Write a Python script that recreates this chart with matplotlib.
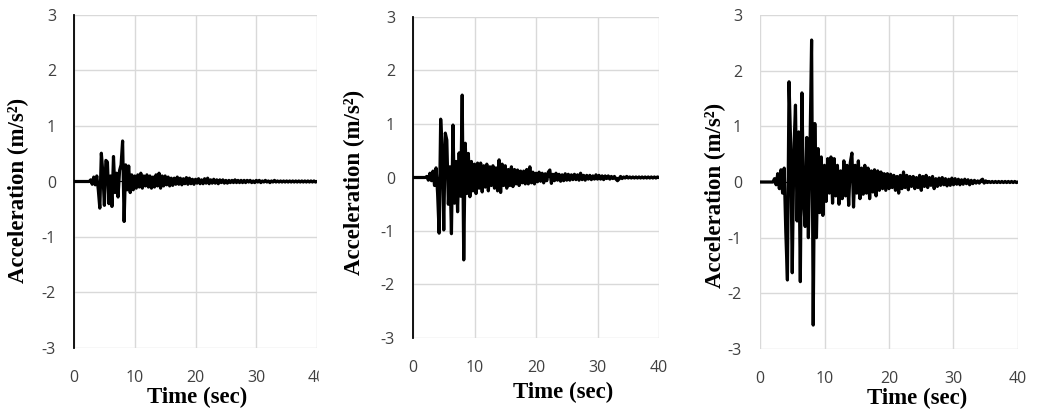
import numpy as np
import matplotlib
matplotlib.use('Agg')
import matplotlib.pyplot as plt
from matplotlib.patches import Rectangle

plt.rcParams['axes.unicode_minus'] = False

# sample times (s), one value every 0.25 s
time = np.arange(0, 40.01, 0.25)

# acceleration (m/s2), 8 samples = 2 s per row
acc1 = [0, 0, 0, 0, 0, 0, 0, 0,
        0, 0, 0, 0.03, -0.05, 0.08, -0.06, 0.1,
        -0.15, -0.48, 0.51, 0.15, -0.43, 0.38, 0.35, -0.4,
        0.1, -0.45, 0.45, -0.2, 0.15, -0.28, 0.2, 0.3,
        0.73, -0.72, 0.3, -0.15, 0.28, -0.2, 0.12, -0.15,
        0.1, -0.12, 0.12, -0.1, 0.15, -0.12, 0.1, -0.08,
        0.12, -0.1, 0.1, -0.12, 0.08, -0.1, 0.12, -0.08,
        0.15, -0.12, 0.1, -0.08, 0.1, -0.06, 0.08, -0.08,
        0.06, -0.07, 0.06, -0.05, 0.08, -0.05, 0.06, -0.06,
        0.05, -0.04, 0.07, -0.05, 0.06, -0.04, 0.04, -0.05,
        0.04, -0.03, 0.05, -0.04, 0.03, -0.04, 0.05, -0.03,
        0.06, -0.04, 0.03, -0.03, 0.04, -0.03, 0.03, -0.04,
        0.03, -0.02, 0.03, -0.03, 0.02, -0.03, 0.02, -0.02,
        0.02, -0.02, 0.03, -0.02, 0.02, -0.02, 0.02, -0.02,
        0.02, -0.02, 0.02, -0.01, 0.02, -0.02, 0.01, -0.02,
        0.02, -0.01, 0.02, -0.02, 0.01, -0.01, 0.02, -0.01,
        0.01, -0.02, 0.01, -0.01, 0.02, -0.01, 0.01, -0.01,
        0.01, -0.01, 0.01, -0.01, 0.01, -0.01, 0.01, -0.01,
        0.01, -0.01, 0.01, -0.01, 0.01, -0.01, 0.01, -0.01,
        0.01, -0.01, 0.01, -0.01, 0.01, -0.01, 0.01, -0.01,
        0.0]

acc2 = [0, 0, 0, 0, 0, 0, 0, 0,
        0, 0.02, -0.05, 0.08, -0.06, 0.12, -0.15, 0.18,
        -0.3, -1.04, 1.09, 0.5, -0.98, 0.83, 0.7, -0.5,
        0.2, -1.05, 0.98, -0.48, 0.3, -0.64, 0.46, -0.35,
        1.54, -1.54, 0.64, -0.3, 0.45, -0.36, 0.3, -0.25,
        0.25, -0.3, 0.27, -0.2, 0.27, -0.27, 0.22, -0.18,
        0.25, -0.25, 0.2, -0.15, 0.22, -0.2, 0.18, -0.25,
        0.33, -0.28, 0.25, -0.15, 0.22, -0.2, 0.15, -0.15,
        0.2, -0.17, 0.15, -0.12, 0.14, -0.15, 0.12, -0.1,
        0.12, -0.12, 0.15, -0.12, 0.2, -0.1, 0.1, -0.12,
        0.08, -0.08, 0.1, -0.07, 0.08, -0.1, 0.07, -0.06,
        0.1, 0.14, -0.11, 0.06, -0.06, 0.08, -0.05, 0.06,
        -0.07, 0.05, -0.06, 0.07, -0.05, 0.06, -0.05, 0.05,
        -0.04, 0.06, -0.04, 0.05, -0.05, 0.08, -0.04, 0.04,
        -0.05, 0.04, -0.03, 0.04, -0.04, 0.03, -0.03, 0.05,
        -0.03, 0.04, -0.03, 0.03, -0.04, 0.03, -0.02, 0.03,
        -0.03, 0.02, -0.02, 0.02, -0.03, -0.06, -0.03, 0.02,
        -0.02, 0.01, -0.01, 0.02, -0.01, 0.01, -0.01, 0.01,
        -0.01, 0.01, -0.01, 0.01, -0.01, 0.01, -0.01, 0.01,
        -0.01, 0.01, -0.01, 0.01, -0.01, 0.01, -0.01, 0.01,
        0.0]

acc3 = [0, 0, 0, 0, 0, 0, 0, 0,
        0, 0.06, -0.05, 0.15, -0.12, 0.22, -0.2, 0.25,
        -0.9, -1.76, 1.8, 0.7, -1.63, 0.55, 1.38, -0.7,
        0.9, -1.79, 1.6, -0.3, -0.8, 0.8, -1.0, 0.6,
        2.55, -2.57, 1.05, -1.0, 0.6, -0.55, 0.45, -0.6,
        0.3, -0.35, 0.42, -0.2, 0.45, -0.38, 0.42, -0.25,
        0.3, -0.4, 0.2, -0.3, 0.38, -0.25, 0.3, -0.42,
        0.35, 0.52, -0.45, 0.3, -0.2, 0.38, -0.3, 0.25,
        -0.22, 0.3, -0.2, 0.25, -0.3, 0.2, -0.18, 0.22,
        -0.25, 0.2, -0.15, 0.18, -0.12, 0.15, -0.15, 0.15,
        -0.12, 0.14, -0.1, 0.12, -0.15, 0.1, -0.2, 0.12,
        -0.12, 0.18, -0.1, 0.12, -0.14, 0.1, -0.08, 0.1,
        -0.12, 0.08, -0.1, 0.12, -0.15, 0.1, -0.08, 0.12,
        -0.1, 0.08, -0.06, 0.1, -0.12, 0.06, -0.08, 0.07,
        -0.06, 0.08, -0.05, 0.06, -0.07, 0.05, -0.06, 0.07,
        -0.05, 0.06, -0.04, 0.05, -0.05, 0.04, -0.04, 0.05,
        -0.03, 0.04, -0.05, 0.03, -0.03, 0.03, -0.02, 0.02,
        -0.02, 0.03, 0.05, -0.02, 0.02, -0.01, 0.01, -0.01,
        0.01, -0.01, 0.01, -0.01, 0.01, -0.01, 0.01, -0.01,
        0.01, -0.01, 0.01, -0.01, 0.01, -0.01, 0.01, -0.01,
        0.0]

xticks = [0, 10, 20, 30, 40]
yticks = [-3, -2, -1, 0, 1, 2, 3]

W, H = 1037, 411


def drawPanel(fig, box, acc, left_black, ylab_xy, xlab_xy):
    l, t, r, b = box
    ax = fig.add_axes([l / W, 1 - b / H, (r - l) / W, (b - t) / H])
    ax.plot(time, acc, color='black', lw=2.3, zorder=3)
    ax.axhline(0, color='black', lw=0.8, zorder=2)
    ax.set_xlim(0, 40)
    ax.set_ylim(-3, 3)
    ax.set_xticks(xticks)
    ax.set_yticks(yticks)
    ax.grid(True, color='#d9d9d9', lw=1.0)
    ax.set_axisbelow(True)
    for s in ax.spines.values():
        s.set_visible(False)
    if left_black:
        ax.spines['left'].set_visible(True)
        ax.spines['left'].set_color('black')
        ax.spines['left'].set_linewidth(1.3)
        ax.spines['left'].set_zorder(4)
    ax.tick_params(length=0, labelsize=11.5, labelcolor='#404040')
    ax.tick_params(axis='y', pad=13)
    ax.tick_params(axis='x', pad=16)
    for lab in ax.get_xticklabels() + ax.get_yticklabels():
        lab.set_fontfamily('Open Sans')
    ax.set_xlabel('Time (sec)', fontfamily='Liberation Serif', fontweight='bold', fontsize=16.5)
    ax.set_ylabel('Acceleration (m/s²)', fontfamily='Liberation Serif', fontweight='bold', fontsize=16.5)
    ax.xaxis.set_label_coords(*xlab_xy)
    ax.yaxis.set_label_coords(*ylab_xy)
    ax.xaxis.label.set_va('center')
    ax.yaxis.label.set_va('center')
    return ax


fig = plt.figure(figsize=(W / 100, H / 100), dpi=100)

drawPanel(fig, (74, 15, 317, 348), acc1, True, (-0.23, 0.474), (0.506, -0.150))
drawPanel(fig, (413, 17, 659, 338), acc2, True, (-0.236, 0.484), (0.61, -0.171))
drawPanel(fig, (760, 15, 1018, 349), acc3, False, (-0.174, 0.461), (0.609, -0.147))

# first picture is cropped on its right edge in the source, cutting the "40"
fig.add_artist(Rectangle((319 / W, 1 - 395 / H), 21 / W, 40 / H,
                         transform=fig.transFigure, color='white', zorder=10))

fig.savefig('out.png', dpi=100, facecolor='white')
